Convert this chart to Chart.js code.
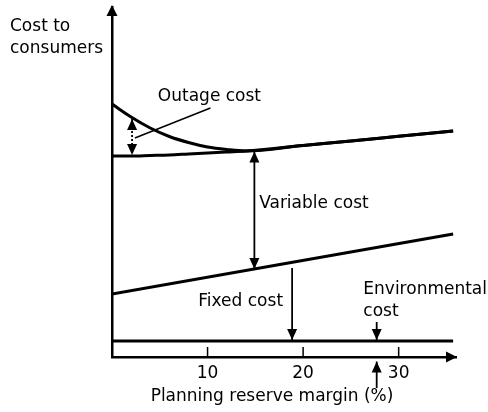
<!DOCTYPE html>
<html>
<head>
<meta charset="utf-8">
<script src="https://cdn.jsdelivr.net/npm/chart.js@4"></script>
<style>
  html, body { margin: 0; padding: 0; background: #fff; }
  #wrap { width: 488px; height: 412px; }
</style>
</head>
<body>
<div id="wrap"><canvas id="costChart" width="488" height="412"></canvas></div>
<script>
// Planning reserve margin (%) and cost levels
const reserveMargin = [0, 2, 4, 6, 8, 10, 12, 14, 20, 25, 30, 35.7];
const totalCost = [25.3, 24.0, 22.9, 22.05, 21.45, 21.0, 20.75, 20.6, 21.15, 21.6, 22.07, 22.6];
const fixedPlusVariable = [20.1, 20.1, 20.15, 20.2, 20.3, 20.4, 20.5, 20.6, 21.15, 21.6, 22.07, 22.6];
const fixedMargin = [0, 35.7];
const fixedCost = [6.3, 12.3];
const envMargin = [0, 35.7];
const envCost = [1.6, 1.6];
const xTicks = [10, 20, 30];

const FONT = '17px "DejaVu Sans", sans-serif';
const INK = '#000';

function toPoints(xs, ys) {
  return xs.map((x, i) => ({ x: x, y: ys[i] }));
}

function lineSet(data) {
  return {
    data: data,
    borderColor: INK,
    borderWidth: 3,
    pointRadius: 0,
    fill: false,
    cubicInterpolationMode: 'monotone'
  };
}

// draws a filled arrow head with tip at (x, y) pointing along angle
function head(ctx, x, y, angle, len, half) {
  ctx.save();
  ctx.translate(x, y);
  ctx.rotate(angle);
  ctx.beginPath();
  ctx.moveTo(0, 0);
  ctx.lineTo(-len, -half);
  ctx.lineTo(-len, half);
  ctx.closePath();
  ctx.fill();
  ctx.restore();
}

function arrow(ctx, x1, y1, x2, y2, opts) {
  opts = opts || {};
  const a = Math.atan2(y2 - y1, x2 - x1);
  ctx.save();
  ctx.strokeStyle = INK;
  ctx.fillStyle = INK;
  ctx.lineWidth = opts.width || 1.8;
  if (opts.dash) ctx.setLineDash(opts.dash);
  ctx.beginPath();
  ctx.moveTo(x1, y1);
  ctx.lineTo(x2, y2);
  ctx.stroke();
  ctx.setLineDash([]);
  if (opts.end !== false) head(ctx, x2, y2, a, 11, 5);
  if (opts.start) head(ctx, x1, y1, a + Math.PI, 11, 5);
  ctx.restore();
}

const annotations = {
  id: 'annotations',
  afterDraw(chart) {
    const ctx = chart.ctx;
    const xs = chart.scales.x, ys = chart.scales.y;
    const px = v => xs.getPixelForValue(v);
    const py = v => ys.getPixelForValue(v);
    const area = chart.chartArea;

    ctx.save();
    ctx.fillStyle = INK;
    ctx.strokeStyle = INK;

    // axis arrow heads
    head(ctx, area.left, area.top - 2, -Math.PI / 2, 11, 5.5);
    head(ctx, area.right + 1, area.bottom, 0, 11, 5.5);

    // tick marks pointing up into the plot
    ctx.lineWidth = 1.5;
    xTicks.forEach(t => {
      ctx.beginPath();
      ctx.moveTo(px(t), area.bottom);
      ctx.lineTo(px(t), area.bottom - 10);
      ctx.stroke();
    });

    // outage cost double arrow (dotted) and leader line
    arrow(ctx, px(2.1), py(23.8), px(2.1), py(20.2), { start: true, dash: [2, 2] });
    ctx.lineWidth = 1.5;
    ctx.beginPath();
    ctx.moveTo(px(2.4), py(21.9));
    ctx.lineTo(px(10.3), py(24.9));
    ctx.stroke();

    // variable cost double arrow
    arrow(ctx, px(14.9), py(20.55), px(14.9), py(8.8), { start: true });

    // fixed cost arrow
    arrow(ctx, px(18.85), py(8.9), px(18.85), py(1.7));

    // environmental cost arrows
    arrow(ctx, px(27.7), py(3.5), px(27.7), py(1.7));
    arrow(ctx, px(27.7), py(-3.1), px(27.7), py(-0.45));

    // labels
    ctx.font = FONT;
    ctx.textBaseline = 'middle';
    ctx.textAlign = 'left';
    ctx.fillText('Outage cost', px(4.8), py(26.0));
    ctx.fillText('Variable cost', px(15.4), py(15.3));
    ctx.fillText('Environmental', px(26.3), py(6.7));
    ctx.fillText('cost', px(26.3), py(4.5));
    ctx.textAlign = 'right';
    ctx.fillText('Fixed cost', px(17.9), py(5.5));

    // axis titles
    ctx.textAlign = 'left';
    ctx.fillText('Cost to', 10, 27);
    ctx.fillText('consumers', 10, 49);
    ctx.textAlign = 'center';
    ctx.fillText('Planning reserve margin (%)', 272, 397);
    ctx.restore();
  }
};

new Chart(document.getElementById('costChart'), {
  type: 'line',
  data: {
    datasets: [
      lineSet(toPoints(reserveMargin, totalCost)),
      lineSet(toPoints(reserveMargin, fixedPlusVariable)),
      lineSet(toPoints(fixedMargin, fixedCost)),
      lineSet(toPoints(envMargin, envCost))
    ]
  },
  options: {
    responsive: false,
    animation: false,
    layout: { padding: { top: 7, right: 32, left: 0, bottom: 0 } },
    plugins: { legend: { display: false }, tooltip: { enabled: false } },
    scales: {
      x: {
        type: 'linear',
        min: 0,
        max: 36,
        grid: { display: false },
        border: { display: true, color: INK, width: 2.5 },
        afterBuildTicks: s => { s.ticks = xTicks.map(v => ({ value: v })); },
        afterFit: s => { s.height = 55; },
        ticks: {
          color: INK,
          padding: -2,
          font: { family: '"DejaVu Sans", sans-serif', size: 17 }
        }
      },
      y: {
        type: 'linear',
        min: 0,
        max: 35,
        grid: { display: false },
        border: { display: true, color: INK, width: 2.5 },
        ticks: { display: false },
        afterFit: s => { s.width = 112; }
      }
    }
  },
  plugins: [annotations]
});
</script>
</body>
</html>
